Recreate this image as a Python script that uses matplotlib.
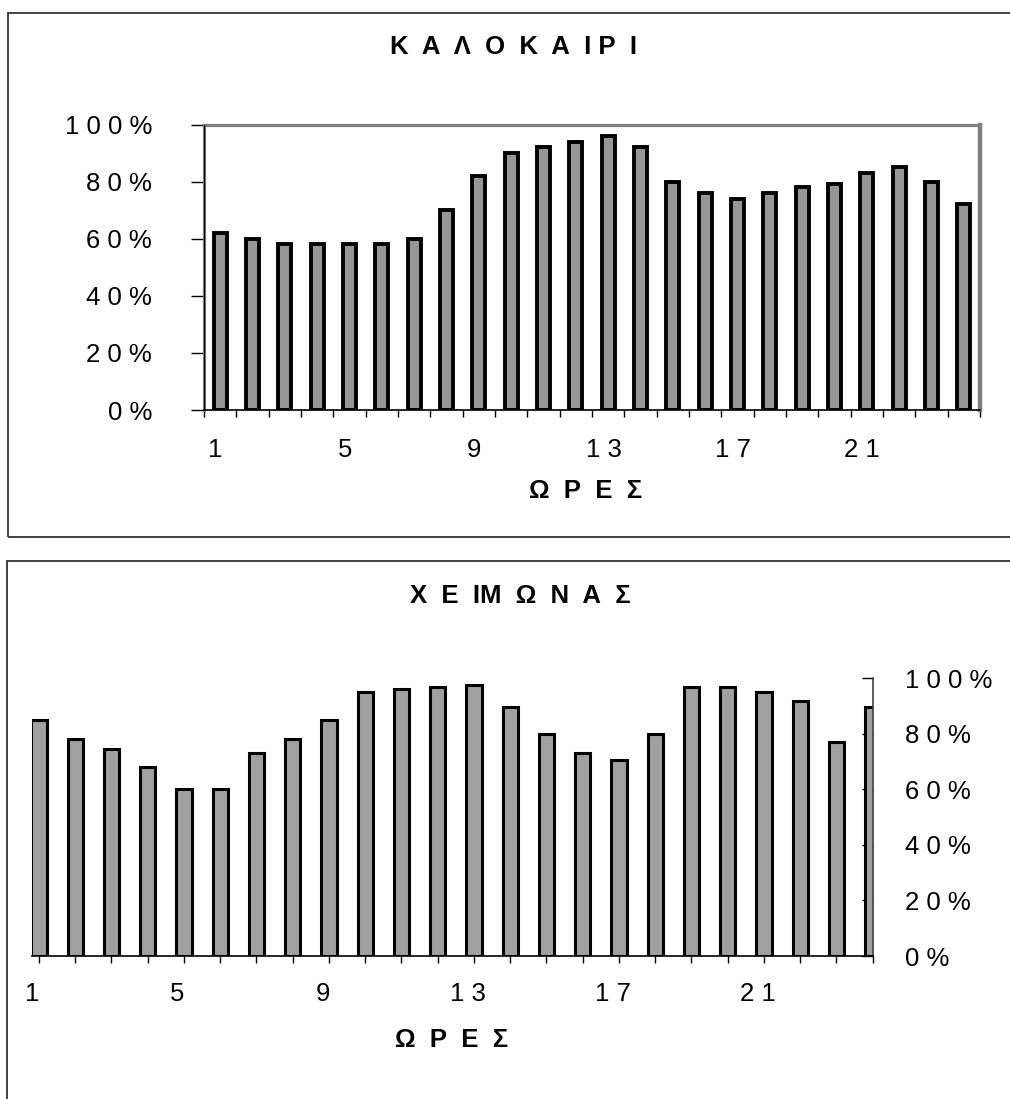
import matplotlib
matplotlib.use("Agg")
import matplotlib.pyplot as plt
from matplotlib.patches import Rectangle
from matplotlib.transforms import ScaledTranslation
import numpy as np

# ---------------- data ----------------
hours = list(range(1, 25))
summer = [62, 60, 58, 58, 58, 58, 60, 70, 82, 90, 92, 94,
          96, 92, 80, 76, 74, 76, 78, 79, 83, 85, 80, 72]
winter = [85, 78, 74.5, 68, 60, 60, 73, 78, 85, 95, 96, 97,
          97.5, 89.5, 80, 73, 70.5, 80, 97, 97, 95, 92, 77, 89.5]
x_label_hours = [1, 5, 9, 13, 17, 21]
x_tick_text = ["1", "5", "9", "1 3", "1 7", "2 1"]
y_ticks = [0, 20, 40, 60, 80, 100]
y_tick_text = ["0 %", "2 0 %", "4 0 %", "6 0 %", "8 0 %", "1 0 0 %"]
title_summer = "Κ  Α  Λ  Ο  Κ  Α  Ι Ρ  Ι"
title_winter = "Χ  Ε  ΙΜ  Ω  Ν  Α  Σ"
xlabel_text = "Ω  Ρ  Ε  Σ"

plt.rcParams['font.family'] = ['Liberation Sans', 'DejaVu Sans']

W, H = 1010, 1099
fig = plt.figure(figsize=(W / 100, H / 100), dpi=100)
fig.patch.set_facecolor('white')


def fx(px):
    return px / W


def fy(py):
    return 1 - py / H


# outer frames
box_col = '#333333'
fig.add_artist(Rectangle((fx(8), fy(536.7)), fx(1030 - 8), fy(12.7) - fy(536.7),
                         transform=fig.transFigure, fill=False, ec=box_col, lw=1.3))
fig.add_artist(Rectangle((fx(7), fy(1120)), fx(1030 - 7), fy(560.7) - fy(1120),
                         transform=fig.transFigure, fill=False, ec=box_col, lw=1.3))

TICK_FS = 18.5
TITLE_FS = 18.5

# ---------------- summer ----------------
idx = np.arange(len(hours))
ax1 = fig.add_axes([fx(204), fy(410), fx(980 - 204), fy(124.5) - fy(410)])
ax1.bar(idx + 0.5, summer, width=0.41, color='#969696', edgecolor='black', linewidth=2.8)
ax1.set_xlim(0, 24)
ax1.set_ylim(0, 100)
ax1.set_xticks(np.arange(0, 25))
ax1.set_xticklabels([])
ax1.set_xticks([h - 0.5 for h in x_label_hours], minor=True)
ax1.set_xticklabels(x_tick_text, minor=True)
ax1.tick_params(axis='x', which='major', direction='out', length=5, width=1, color='black')
ax1.tick_params(axis='x', which='minor', length=0, pad=20.5, labelsize=TICK_FS)
ax1.set_yticks(y_ticks)
ax1.set_yticklabels(y_tick_text)
ax1.tick_params(axis='y', direction='out', length=9.4, width=1, pad=28, labelsize=TICK_FS)
for s in ['top', 'left']:
    ax1.spines[s].set_color('#808080')
    ax1.spines[s].set_linewidth(2.3)
ax1.spines['right'].set_color('#808080')
ax1.spines['right'].set_linewidth(3.2)
ax1.spines['bottom'].set_color('black')
ax1.spines['bottom'].set_linewidth(1.2)
ax1.axvline(0, color='black', lw=0.9, zorder=3)
off1 = ScaledTranslation(-4.5 / 100, 0, fig.dpi_scale_trans)
for lab in ax1.get_xticklabels(minor=True):
    lab.set_transform(lab.get_transform() + off1)

fig.text(fx(513), fy(54), title_summer, ha='center', va='baseline',
         fontsize=TITLE_FS, fontweight='bold')
fig.text(fx(586), fy(498.3), xlabel_text, ha='center', va='baseline',
         fontsize=TITLE_FS, fontweight='bold')

# ---------------- winter ----------------
ax2 = fig.add_axes([fx(31.7), fy(956), fx(872.7 - 31.7), fy(678.3) - fy(956)])
ax2.bar(idx, winter, width=0.42, color='#a0a0a0', edgecolor='black', linewidth=2.2)
ax2.set_xlim(-0.2, 23)
ax2.set_ylim(0, 100)
ax2.set_axisbelow(True)
ax2.spines['left'].set_visible(False)
ax2.spines['top'].set_visible(False)
ax2.spines['right'].set_color('#404040')
ax2.spines['right'].set_linewidth(1.2)
ax2.spines['bottom'].set_color('black')
ax2.spines['bottom'].set_linewidth(1.2)
ax2.yaxis.tick_right()
ax2.set_yticks(y_ticks)
ax2.set_yticklabels(y_tick_text)
ax2.tick_params(axis='y', direction='in', length=8, width=1, pad=23,
                labelsize=TICK_FS, right=True, left=False)
ax2.set_xticks(idx)
lab_map = dict(zip(x_label_hours, x_tick_text))
ax2.set_xticklabels([lab_map.get(h, '') for h in hours])
ax2.tick_params(axis='x', direction='out', length=5, width=1, pad=13.5, labelsize=TICK_FS)
off2 = ScaledTranslation(-6.5 / 100, 0, fig.dpi_scale_trans)
for lab in ax2.get_xticklabels():
    lab.set_transform(lab.get_transform() + off2)

fig.text(fx(520), fy(603.3), title_winter, ha='center', va='baseline',
         fontsize=TITLE_FS, fontweight='bold')
fig.text(fx(452), fy(1046.7), xlabel_text, ha='center', va='baseline',
         fontsize=TITLE_FS, fontweight='bold')

fig.savefig('out.png', dpi=100, facecolor='white')
